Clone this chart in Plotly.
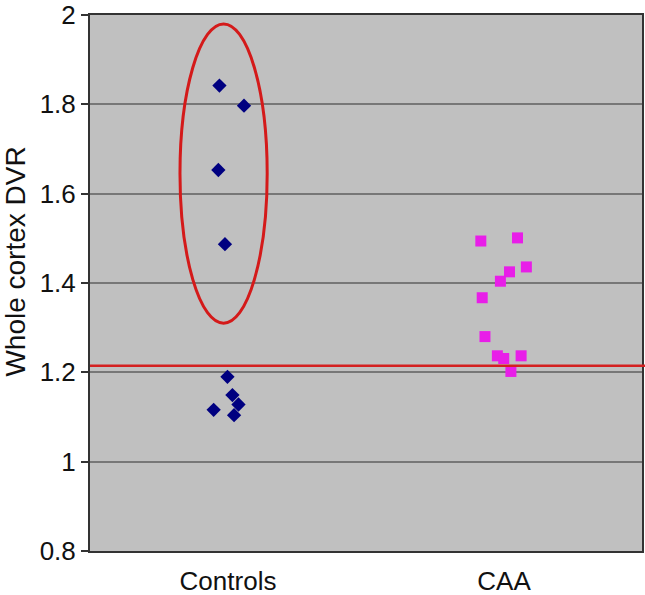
import plotly.graph_objects as go

# ---- data ----
categories = ["Controls", "CAA"]
category_pos = [1, 2]

controls_jitter = [-0.031, 0.058, -0.035, -0.011, -0.002, 0.016, 0.038, -0.052, 0.022]
controls_dvr = [1.842, 1.797, 1.653, 1.487, 1.190, 1.149, 1.128, 1.116, 1.104]

caa_jitter = [-0.084, 0.049, 0.081, 0.020, -0.013, -0.079, -0.069, -0.024, -0.001, 0.062, 0.025]
caa_dvr = [1.494, 1.501, 1.436, 1.425, 1.404, 1.367, 1.280, 1.237, 1.231, 1.237, 1.202]

cutoff = 1.215
ellipse_x = [0.826, 1.142]
ellipse_y = [1.310, 1.980]

y_ticks = [0.8, 1.0, 1.2, 1.4, 1.6, 1.8, 2.0]
y_ticklabels = ["0.8", "1", "1.2", "1.4", "1.6", "1.8", "2"]
y_title = "Whole cortex DVR"

FONT = "Liberation Sans, Arial, Helvetica, sans-serif"

fig = go.Figure()
fig.add_trace(go.Scatter(
    x=[category_pos[0] + j for j in controls_jitter], y=controls_dvr,
    mode="markers", name="Controls",
    marker=dict(symbol="diamond", size=11, color="#000080", line=dict(width=0)),
))
fig.add_trace(go.Scatter(
    x=[category_pos[1] + j for j in caa_jitter], y=caa_dvr,
    mode="markers", name="CAA",
    marker=dict(symbol="square", size=11, color="#e81ee8", line=dict(width=0)),
))

fig.add_shape(type="line", xref="paper", yref="y", x0=0, x1=1.02,
              y0=cutoff, y1=cutoff, line=dict(color="#d42020", width=2.5), layer="above")
fig.add_shape(type="circle", xref="x", yref="y",
              x0=ellipse_x[0], x1=ellipse_x[1], y0=ellipse_y[0], y1=ellipse_y[1],
              line=dict(color="#d41a1a", width=3), layer="above")

fig.add_annotation(
    text=y_title, xref="paper", yref="paper", x=-0.134, y=0.54,
    xanchor="center", yanchor="middle", textangle=-90, showarrow=False,
    font=dict(size=28, family=FONT, color="#111111"),
)

fig.update_layout(
    width=645, height=595,
    margin=dict(l=90, r=3, t=15, b=44),
    paper_bgcolor="white", plot_bgcolor="#c0c0c0",
    showlegend=False,
    font=dict(family=FONT, size=26, color="#111111"),
)
fig.update_xaxes(
    range=[0.5, 2.5], tickvals=category_pos, ticktext=categories,
    showgrid=False, zeroline=False, automargin=False,
    showline=True, mirror=True, linecolor="#333333", linewidth=2,
    ticks="", ticklabelstandoff=6,
    tickfont=dict(size=26, family=FONT),
)
fig.update_yaxes(
    range=[0.8, 2.0], tickvals=y_ticks, ticktext=y_ticklabels,
    showgrid=True, gridcolor="#777777", gridwidth=2, zeroline=False, automargin=False,
    showline=True, mirror=True, linecolor="#333333", linewidth=2,
    ticks="outside", ticklen=7, tickcolor="#333333", tickwidth=1.5,
    tickfont=dict(size=26, family=FONT),
)

fig.write_html(
    "out.html",
    config={"responsive": False, "displayModeBar": False},
    post_script="document.body.style.margin='0';document.body.style.overflow='hidden';",
)
